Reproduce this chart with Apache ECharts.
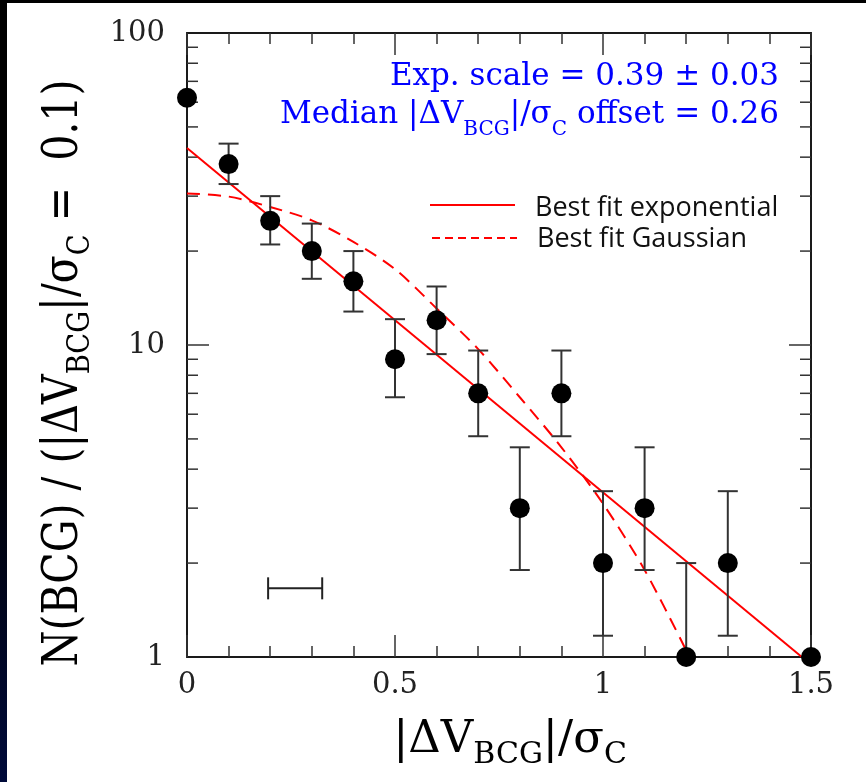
<!DOCTYPE html>
<html><head><meta charset="utf-8">
<script src="https://cdn.jsdelivr.net/npm/echarts@6/dist/echarts.min.js"></script>
<style>
html,body{margin:0;padding:0;}
body{width:866px;height:782px;background:linear-gradient(to bottom,#000 0%,#000 55%,#000a3a 100%);position:relative;overflow:hidden;}
#paper{position:absolute;left:7px;top:3px;width:859px;height:779px;background:#fff;}
#chart{position:absolute;left:0;top:0;width:866px;height:782px;}
</style></head><body><div id="paper"></div><div id="chart"></div>
<script>
// ---- data ----
const binX    = [0,    0.1,  0.2, 0.3,  0.4,  0.5, 0.6,  0.7, 0.8, 0.9, 1.0,  1.1, 1.2, 1.3,  1.5];
const counts  = [62,   38,   25,  20,   16,   9,   12,   7,   3,   7,   2,    3,   1,   2,    1];
const errLow  = [null, 32.8, 21,  16.3, 12.8, 6.8, 9.35, 5.1, 1.9, 5.1, 1.17, 1.9, null,1.17, null];
const errHigh = [null, 44.2, 30,  24.5, 20,   12.1,15.4, 9.6, 4.7, 9.6, 3.4,  4.7, 2.0, 3.4,  null];

const expFitX = [0, 1.478];
const expFitY = [42.8, 1.0];

const gaussFitX = [0, 0.1, 0.2, 0.3, 0.4, 0.5, 0.6, 0.7, 0.8, 0.9, 1.0, 1.1, 1.2];
const gaussFitY = [30.6, 29.9, 27.7, 25.1, 21.4, 17.5, 13.1, 9.7, 6.8, 4.7, 3.1, 1.9, 1.05];

const offsetBarLo = 0.195, offsetBarHi = 0.325, offsetBarY = 1.66;

const yMinorTicks = [2,3,4,5,6,7,8,9,20,30,40,50,60,70,80,90];
const yMajorTicks = [10];

const xMin = 0, xMax = 1.5, xInterval = 0.5;
const yMin = 1, yMax = 100;

// ---- helpers ----
const SERIF = 'DejaVu Serif';
const mctx = document.createElement('canvas').getContext('2d');
function segGroup(segs, o) {
  const widths = segs.map(s => { mctx.font = s.size + 'px "' + (s.family || SERIF) + '"'; return mctx.measureText(s.t).width; });
  const W = widths.reduce((a, b) => a + b, 0);
  let cx = o.align === 'right' ? -W : (o.align === 'center' ? -W / 2 : 0);
  const children = [];
  segs.forEach((s, i) => {
    children.push({
      type: 'text', x: cx, y: (s.dy || 0) - 0.32 * s.size,
      style: { text: s.t, fontSize: s.size, fontFamily: s.family || SERIF, fill: o.fill,
               align: 'left', verticalAlign: 'middle', textAlign: 'left', textVerticalAlign: 'middle' }
    });
    cx += widths[i];
  });
  const sx = o.targetWidth ? o.targetWidth / W : 1;
  return { type: 'group', x: o.x, y: o.y, rotation: o.rotation || 0, scaleX: sx, children };
}

const pts = binX.map((x, i) => [x, counts[i]]);
const errData = [];
binX.forEach((x, i) => {
  if (errHigh[i] != null) errData.push([x, errLow[i] != null ? errLow[i] : counts[i], errHigh[i], errLow[i] != null ? 1 : 0]);
});
const tickData = yMinorTicks.map(v => [v, 11]).concat(yMajorTicks.map(v => [v, 22]));

const AX = '#1a1a1a', TK = '#333';
const xAxisBase = {
  type: 'value', min: xMin, max: xMax, interval: xInterval,
  axisLine: { show: true, onZero: false, lineStyle: { color: AX, width: 2 } },
  axisTick: { show: true, inside: true, length: 22, lineStyle: { color: TK, width: 1.5 } },
  minorTick: { show: true, splitNumber: 5, length: 11, lineStyle: { color: TK, width: 1.5 } },
  splitLine: { show: false }
};

const chart = echarts.init(document.getElementById('chart'), null, { renderer: 'canvas' });
chart.setOption({
  backgroundColor: 'transparent',
  animation: false,
  grid: { left: 187, right: 55, top: 33, bottom: 125 },
  xAxis: [
    Object.assign({}, xAxisBase, { position: 'bottom',
      axisLabel: { show: true, margin: 14, fontFamily: SERIF, fontSize: 29, color: '#222' } }),
    Object.assign({}, xAxisBase, { position: 'top', axisLabel: { show: false } })
  ],
  yAxis: [
    { type: 'log', logBase: 10, min: yMin, max: yMax, position: 'left',
      axisLine: { show: true, onZero: false, lineStyle: { color: AX, width: 2 } },
      axisTick: { show: false }, splitLine: { show: false }, minorTick: { show: false },
      axisLabel: { show: true, margin: 22, fontFamily: SERIF, fontSize: 29, color: '#222', showMinLabel: true, showMaxLabel: true } },
    { type: 'log', logBase: 10, min: yMin, max: yMax, position: 'right',
      axisLine: { show: true, onZero: false, lineStyle: { color: AX, width: 2 } },
      axisTick: { show: false }, splitLine: { show: false }, axisLabel: { show: false } }
  ],
  series: [
    { type: 'custom', name: 'yticks', data: tickData, silent: true, z: 3,
      encode: { x: -1, y: 0 },
      renderItem: function (params, api) {
        const v = api.value(0), len = api.value(1);
        const pL = api.coord([xMin, v]), pR = api.coord([xMax, v]);
        const st = { stroke: TK, lineWidth: 1.5 };
        return { type: 'group', children: [
          { type: 'line', shape: { x1: pL[0], y1: pL[1], x2: pL[0] + len, y2: pL[1] }, style: st },
          { type: 'line', shape: { x1: pR[0], y1: pR[1], x2: pR[0] - len, y2: pR[1] }, style: st }
        ] };
      } },
    { type: 'line', name: 'Best fit exponential', data: expFitX.map((x, i) => [x, expFitY[i]]),
      showSymbol: false, symbol: 'none', lineStyle: { color: '#ff0000', width: 2 }, z: 4 },
    { type: 'line', name: 'Best fit Gaussian', data: gaussFitX.map((x, i) => [x, gaussFitY[i]]),
      showSymbol: false, symbol: 'none', smooth: 0.3, lineStyle: { color: '#ff0000', width: 2, type: [13, 8] }, z: 4 },
    { type: 'custom', name: 'errors', data: errData, z: 5,
      encode: { x: 0, y: [1, 2] },
      renderItem: function (params, api) {
        const x = api.value(0), lo = api.value(1), hi = api.value(2), capLo = api.value(3);
        const pL = api.coord([x, lo]), pH = api.coord([x, hi]);
        const st = { stroke: '#333', lineWidth: 2 };
        const ch = [
          { type: 'line', shape: { x1: pL[0], y1: pL[1], x2: pH[0], y2: pH[1] }, style: st },
          { type: 'line', shape: { x1: pH[0] - 10, y1: pH[1], x2: pH[0] + 10, y2: pH[1] }, style: st }
        ];
        if (capLo) ch.push({ type: 'line', shape: { x1: pL[0] - 10, y1: pL[1], x2: pL[0] + 10, y2: pL[1] }, style: st });
        return { type: 'group', children: ch };
      } },
    { type: 'custom', name: 'offsetbar', data: [[offsetBarLo, offsetBarHi, offsetBarY]], z: 5,
      encode: { x: [0, 1], y: 2 },
      renderItem: function (params, api) {
        const a = api.coord([api.value(0), api.value(2)]), b = api.coord([api.value(1), api.value(2)]);
        const st = { stroke: '#222', lineWidth: 2 };
        return { type: 'group', children: [
          { type: 'line', shape: { x1: a[0], y1: a[1], x2: b[0], y2: b[1] }, style: st },
          { type: 'line', shape: { x1: a[0], y1: a[1] - 11, x2: a[0], y2: a[1] + 11 }, style: st },
          { type: 'line', shape: { x1: b[0], y1: b[1] - 11, x2: b[0], y2: b[1] + 11 }, style: st }
        ] };
      } },
    { type: 'scatter', name: 'N(BCG)', data: pts, symbol: 'circle', symbolSize: 20,
      itemStyle: { color: '#000', opacity: 1 }, z: 6, clip: false }
  ],
  graphic: [
    segGroup([{ t: '|ΔV', size: 45 }, { t: 'BCG', size: 30, dy: 10 }, { t: '|/σ', size: 45 }, { t: 'C', size: 30, dy: 10 }],
      { x: 510, y: 755, align: 'center', fill: '#000' }),
    segGroup([{ t: 'N(BCG) / (|ΔV', size: 48 }, { t: 'BCG', size: 32, dy: 11 }, { t: '|/σ', size: 48 }, { t: 'C', size: 32, dy: 11 }, { t: ' =  0.1)', size: 48 }],
      { x: 80, y: 373, align: 'center', rotation: Math.PI / 2, targetWidth: 587, fill: '#000' }),
    segGroup([{ t: 'Exp. scale = 0.39 ± 0.03', size: 31 }], { x: 779, y: 87, align: 'right', fill: '#0000ff' }),
    segGroup([{ t: 'Median |ΔV', size: 31 }, { t: 'BCG', size: 20, dy: 11 }, { t: '|/σ', size: 31 }, { t: 'C', size: 20, dy: 11 }, { t: ' offset = 0.26', size: 31 }],
      { x: 779, y: 125, align: 'right', fill: '#0000ff' }),
    { type: 'line', shape: { x1: 430, y1: 205, x2: 515, y2: 205 }, style: { stroke: '#ff0000', lineWidth: 2 } },
    { type: 'line', shape: { x1: 432, y1: 238, x2: 517, y2: 238 }, style: { stroke: '#ff0000', lineWidth: 2, lineDash: [8, 5] } },
    segGroup([{ t: 'Best fit exponential', size: 27, family: 'Open Sans' }], { x: 535, y: 217, align: 'left', fill: '#111' }),
    segGroup([{ t: 'Best fit Gaussian', size: 27, family: 'Open Sans' }], { x: 537, y: 248, align: 'left', fill: '#111' })
  ]
});
</script></body></html>
